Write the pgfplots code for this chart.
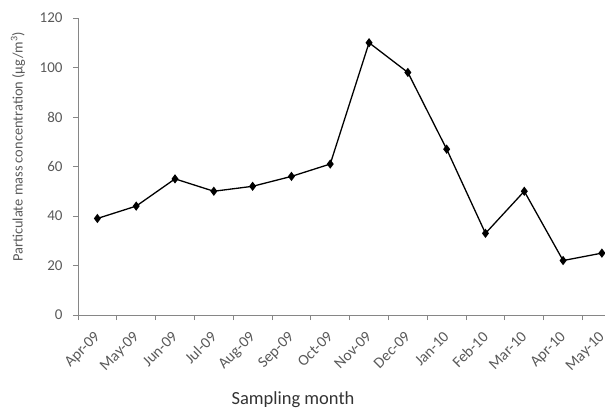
\documentclass[border=0pt]{standalone}
\usepackage{fontspec}
\setmainfont{Carlito}
\usepackage{pgfplots}
\pgfplotsset{compat=1.18}
\definecolor{axgray}{RGB}{134,134,134}
\definecolor{txtgray}{RGB}{89,89,89}
\begin{document}
\begin{tikzpicture}[x=1pt,y=1pt]
\begin{axis}[
  name=ax,
  scale only axis,
  width=527pt, height=297pt,
  xmin=-0.5, xmax=13.08,
  ymin=0, ymax=120,
  ytick={0,20,...,120},
  xtick={0,...,13},
  xticklabels={Apr-09,May-09,Jun-09,Jul-09,Aug-09,Sep-09,Oct-09,Nov-09,Dec-09,Jan-10,Feb-10,Mar-10,Apr-10,May-10},
  minor xtick={-0.5,0.5,...,12.5},
  major x tick style={draw=none},
  minor tick length=5pt,
  major tick length=5pt,
  tick align=outside,
  tick style={axgray, line width=0.8pt},
  axis x line*=bottom,
  axis y line*=left,
  axis line style={axgray, line width=0.8pt, -},
  x tick label style={xshift=-4pt, yshift=-9pt, rotate=45, anchor=north east, font=\fontsize{15.5}{17}\selectfont, text=txtgray, inner sep=1pt},
  y tick label style={font=\fontsize{15}{17}\selectfont, text=txtgray, xshift=-7pt},
  /pgf/number format/assume math mode=true,
  clip=false,
  xlabel={Sampling month},
  xlabel style={font=\fontsize{18.5}{20}\selectfont, text=black!80, at={(axis description cs:0.408,-0.286)}, anchor=center},
  ylabel={Particulate mass concentration (µg/m\textsuperscript{3})},
  ylabel style={font=\fontsize{14.4}{16}\selectfont, text=txtgray, at={(axis description cs:-0.114,0.566)}, anchor=center},
]
\addplot[black, line width=1.3pt, mark=diamond*, mark size=3.6pt] coordinates {
(0,39) (1,44) (2,55) (3,50) (4,52) (5,56) (6,61) (7,110) (8,98) (9,67) (10,33) (11,50) (12,22) (13,25)
};
\end{axis}
\pgfresetboundingbox
\path (ax.south west) ++(-78pt,-97pt) rectangle ++(605pt,412pt);
\end{tikzpicture}
\end{document}
